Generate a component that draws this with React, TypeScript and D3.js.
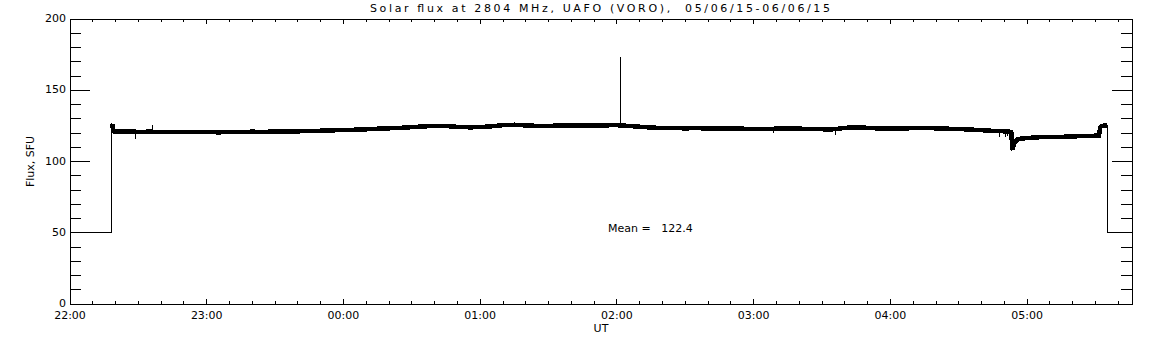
import { useEffect, useRef } from "react";
import * as d3 from "d3";

// time is minutes after 22:00 UT
const hourLabels = ["22:00", "23:00", "00:00", "01:00", "02:00", "03:00", "04:00", "05:00"];
const hourTicks = [0, 60, 120, 180, 240, 300, 360, 420];
const yMajor = [0, 50, 100, 150, 200];
const tEnd = 466;

const fluxTimes = [
  18.5, 19, 20, 25, 30, 35, 40, 45, 50, 55, 60, 65, 70, 75, 80, 85, 90, 95, 100, 105,
  110, 115, 120, 125, 130, 135, 140, 145, 150, 155, 160, 165, 170, 175, 180, 185, 190,
  195, 200, 205, 210, 215, 220, 225, 230, 235, 240, 245, 250, 255, 260, 265, 270, 275,
  280, 285, 290, 295, 300, 305, 310, 315, 320, 325, 330, 333, 337, 340, 345, 350, 355,
  360, 365, 370, 375, 380, 385, 390, 395, 400, 405, 410, 413, 413.5, 414.5, 416, 420,
  425, 430, 435, 440, 445, 450, 451.5, 452, 453, 455,
];
const fluxValues = [
  126.5, 121.2, 121.0, 121.2, 120.8, 120.9, 120.7, 120.8, 120.6, 120.7, 120.6, 120.5,
  120.6, 120.7, 120.9, 120.8, 121.0, 121.0, 121.2, 121.3, 121.6, 121.9, 122.0, 122.3,
  122.6, 123.0, 123.3, 123.6, 124.1, 124.6, 125.0, 124.9, 124.3, 124.0, 124.1, 124.7,
  125.5, 125.8, 125.3, 125.0, 125.0, 125.2, 125.3, 125.2, 125.3, 125.4, 125.5, 125.0,
  124.4, 123.8, 123.5, 123.4, 123.3, 123.4, 123.2, 123.0, 123.1, 123.0, 122.8, 122.9,
  123.0, 123.2, 123.0, 122.9, 122.7, 122.3, 123.0, 123.6, 124.0, 123.6, 123.2, 123.0,
  123.2, 123.4, 123.5, 123.3, 123.0, 122.8, 122.4, 122.0, 121.5, 121.2, 120.8, 108.5,
  113.5, 115.8, 116.5, 117.0, 117.2, 117.3, 117.6, 117.9, 118.1, 118.0, 124.0, 125.0,
  125.4,
];

const spikeTimes = [28.8, 36.4, 241.6, 308.6, 335.8, 408, 410.4, 411.5, 413.3];
const spikeValues = [115.6, 125.8, 173, 120.2, 118.8, 117.4, 117.0, 118.0, 107.5];

const leadTimes = [0, 18.4, 18.4];
const leadValues = [50, 50, 127];
const tailTimes = [455.4, 455.4, tEnd];
const tailValues = [125.6, 50, 50];

const meanValue = 122.4;

const App = () => {
  const chartRef = useRef(null);

  useEffect(() => {
    const width = 1152;
    const height = 345;
    const left = 70;
    const right = 1132;
    const top = 19;
    const bottom = 304;
    const font = "'DejaVu Sans', sans-serif";

    const svg = d3
      .select(chartRef.current)
      .append("svg")
      .attr("width", width)
      .attr("height", height)
      .style("position", "absolute")
      .style("left", 0)
      .style("top", 0)
      .style("background", "#fff");

    const x = d3.scaleLinear().domain([0, tEnd]).range([left, right]);
    const y = d3.scaleLinear().domain([0, 200]).range([bottom, top]);

    const axes = svg.append("g").attr("stroke", "#000").attr("shape-rendering", "crispEdges");

    axes
      .append("rect")
      .attr("x", left)
      .attr("y", top)
      .attr("width", right - left)
      .attr("height", bottom - top)
      .attr("fill", "none");

    // x ticks every 10 minutes, bottom and top
    const minorX = d3.range(0, tEnd, 10);
    minorX.forEach((m) => {
      const len = m % 60 === 0 ? 5 : 3;
      axes.append("line").attr("x1", x(m)).attr("x2", x(m)).attr("y1", bottom).attr("y2", bottom - len);
      axes.append("line").attr("x1", x(m)).attr("x2", x(m)).attr("y1", top).attr("y2", top + len);
    });

    // y ticks every 10 SFU, left and right
    d3.range(0, 201, 10).forEach((v) => {
      const len = v % 50 === 0 ? 20 : 11;
      axes.append("line").attr("x1", left).attr("x2", left + len).attr("y1", y(v)).attr("y2", y(v));
      axes.append("line").attr("x1", right).attr("x2", right - len).attr("y1", y(v)).attr("y2", y(v));
    });

    const text = svg
      .append("g")
      .attr("font-family", font)
      .attr("font-size", 11)
      .attr("fill", "#000");

    hourTicks.forEach((m, i) => {
      text
        .append("text")
        .attr("x", x(m))
        .attr("y", 316)
        .attr("text-anchor", "middle")
        .attr("dominant-baseline", "middle")
        .text(hourLabels[i]);
    });

    yMajor.forEach((v) => {
      text
        .append("text")
        .attr("x", left - 4)
        .attr("y", y(v))
        .attr("text-anchor", "end")
        .attr("dominant-baseline", "middle")
        .text(v);
    });

    text
      .append("text")
      .attr("transform", `translate(31,${(top + bottom) / 2}) rotate(-90)`)
      .attr("text-anchor", "middle")
      .attr("dominant-baseline", "middle")
      .text("Flux, SFU");

    text
      .append("text")
      .attr("x", (left + right) / 2)
      .attr("y", 329)
      .attr("text-anchor", "middle")
      .attr("dominant-baseline", "middle")
      .text("UT");

    text
      .append("text")
      .attr("x", 370)
      .attr("y", 9)
      .attr("dominant-baseline", "middle")
      .attr("textLength", 460)
      .attr("lengthAdjust", "spacing")
      .style("white-space", "pre")
      .text("Solar flux at 2804 MHz, UAFO (VORO),  05/06/15-06/06/15");

    text
      .append("text")
      .attr("x", 608)
      .attr("y", 229)
      .attr("dominant-baseline", "middle")
      .style("white-space", "pre")
      .text(`Mean =   ${meanValue.toFixed(1)}`);

    const line = d3
      .line<number>()
      .x((d, i) => x(fluxTimes[i]))
      .y((d) => y(d));

    svg
      .append("path")
      .datum(fluxValues)
      .attr("d", line)
      .attr("fill", "none")
      .attr("stroke", "#000")
      .attr("stroke-width", 4.5)
      .attr("stroke-linejoin", "miter")
      .attr("shape-rendering", "crispEdges");

    const stepLine = (ts: number[], vs: number[]) =>
      d3
        .line<number>()
        .x((d, i) => x(ts[i]))
        .y((d) => y(d))(vs);

    svg
      .append("path")
      .attr("d", stepLine(leadTimes, leadValues))
      .attr("fill", "none")
      .attr("stroke", "#000")
      .attr("shape-rendering", "crispEdges");

    svg
      .append("path")
      .attr("d", stepLine(tailTimes, tailValues))
      .attr("fill", "none")
      .attr("stroke", "#000")
      .attr("shape-rendering", "crispEdges");

    // single-sample spikes
    spikeTimes.forEach((t, i) => {
      const k = d3.bisectLeft(fluxTimes, t);
      svg
        .append("line")
        .attr("x1", x(t))
        .attr("x2", x(t))
        .attr("y1", y(fluxValues[Math.min(k, fluxValues.length - 1)]))
        .attr("y2", y(spikeValues[i]))
        .attr("stroke", "#000")
        .attr("shape-rendering", "crispEdges");
    });

    return () => {
      d3.select(chartRef.current).selectAll("*").remove();
    };
  }, []);

  return <div ref={chartRef}></div>;
};

export default App;
